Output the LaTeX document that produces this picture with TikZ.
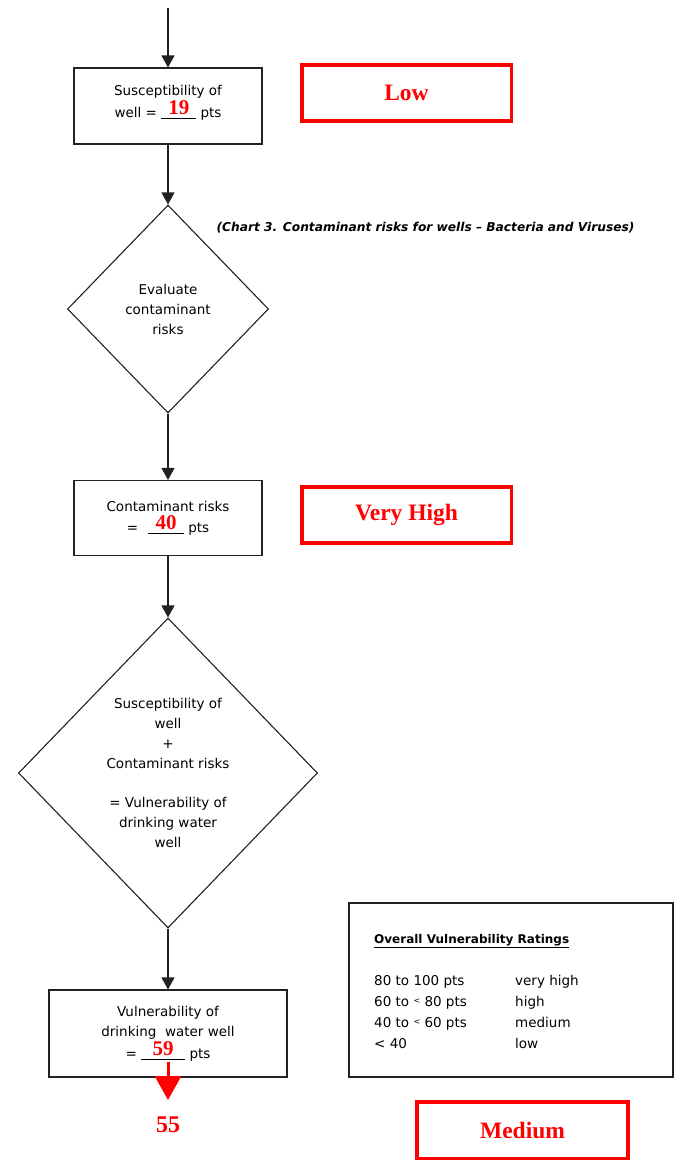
\documentclass[tikz,border=0pt]{standalone}
\usepackage{fontspec}
\setmainfont{DejaVu Sans}
\newfontfamily\redserif{Liberation Serif}
\usetikzlibrary{arrows.meta,shapes.geometric}
\definecolor{lineblack}{HTML}{222222}
\newcommand\rnum[1]{{\color{red}\redserif\bfseries\fontsize{21}{21}\selectfont #1}}
\newcommand\blankfill[2]{\makebox[#1]{\raisebox{3pt}{\rnum{#2}}}\llap{\rule[-1pt]{#1}{0.7pt}}}
\newcommand\smalllt{\raisebox{2.5pt}{\fontsize{8}{8}\selectfont <}}
\begin{document}
\begin{tikzpicture}[x=1pt,y=-1pt,
  every node/.style={font=\fontsize{13.5}{20}\selectfont, text=black},
  box/.style={draw=lineblack, line width=1.1pt, rectangle, align=center, inner sep=0pt},
  dia/.style={draw=lineblack, line width=1.1pt, diamond, align=center, inner sep=0pt},
  flow/.style={draw=lineblack, line width=1.1pt, -{Triangle[width=13pt,length=12pt]}},
  rate/.style={draw=red, line width=3.5pt, rectangle, inner sep=0pt, text=red,
    font=\redserif\bfseries\fontsize{23.5}{24}\selectfont},
  rowtxt/.style={anchor=base west, inner sep=0pt}
]
\useasboundingbox (0,0) rectangle (676,1168);

% flow boxes
\node[box, minimum width=188pt, minimum height=76pt] (b1) at (168,106) {};
\node[align=center, inner sep=0pt] (b1t) at (168,102.5) {Susceptibility of\\[2pt]well = \blankfill{35pt}{19} pts};

\node[dia, minimum width=201pt, minimum height=208pt] (d1) at (168,309) {Evaluate\\contaminant\\risks};

\node[box, minimum width=188pt, minimum height=75pt] (b2) at (168,518)
  {Contaminant risks\\[1pt]=\hspace{10pt}\blankfill{36pt}{40} pts};

\node[dia, minimum width=299pt, minimum height=310pt] (d2) at (168,773)
  {Susceptibility of\\well\\+\\Contaminant risks\\[19.5pt]= Vulnerability of\\drinking water\\well};

\node[box, minimum width=238pt, minimum height=87pt] (b3) at (168,1033.5)
  {Vulnerability of\\drinking\ \ water well\\[2pt]= \blankfill{44pt}{59} pts};

% connectors
\coordinate (start) at (168,8);
\draw[flow] (start) -- (b1);
\draw[flow] (b1) -- (d1);
\draw[flow] (d1) -- (b2);
\draw[flow] (b2) -- (d2);
\draw[flow] (d2) -- (b3);

% red result arrow
\coordinate (rs) at (168,1062);
\coordinate (rt) at (168,1100);
\draw[red, line width=3pt, -{Triangle[width=26pt,length=24pt]}] (rs) -- (rt);
\node[text=red, font=\redserif\bfseries\fontsize{24}{24}\selectfont] (n55) at (168,1125) {55};

% red rating boxes
\node[rate, minimum width=209.5pt, minimum height=56pt] (low) at (406.5,93) {Low};
\node[rate, minimum width=209.5pt, minimum height=56pt] (vhigh) at (406.5,515) {Very High};
\node[rate, minimum width=211pt, minimum height=56.5pt] (medium) at (522.5,1130) {Medium};

% chart label
\node[font=\bfseries\itshape\fontsize{12.2}{14}\selectfont] (chart) at (425.5,228)
  {(Chart 3. Contaminant risks for wells -- Bacteria and Viruses)};

% ratings table
\node[draw=lineblack, line width=1.1pt, minimum width=324pt, minimum height=174pt, inner sep=0pt] (rb) at (511,990) {};
\node[rowtxt, font=\bfseries\fontsize{12}{14}\selectfont] (rtitle) at (374,943) {\underline{Overall Vulnerability Ratings}};
\node[rowtxt] (r1a) at (374,985) {80 to 100 pts};
\node[rowtxt] (r1b) at (515,985) {very high};
\node[rowtxt] (r2a) at (374,1006) {60 to \smalllt\ 80 pts};
\node[rowtxt] (r2b) at (515,1006) {high};
\node[rowtxt] (r3a) at (374,1027) {40 to \smalllt\ 60 pts};
\node[rowtxt] (r3b) at (515,1027) {medium};
\node[rowtxt] (r4a) at (374,1048) {< 40};
\node[rowtxt] (r4b) at (515,1048) {low};
\end{tikzpicture}
\end{document}
